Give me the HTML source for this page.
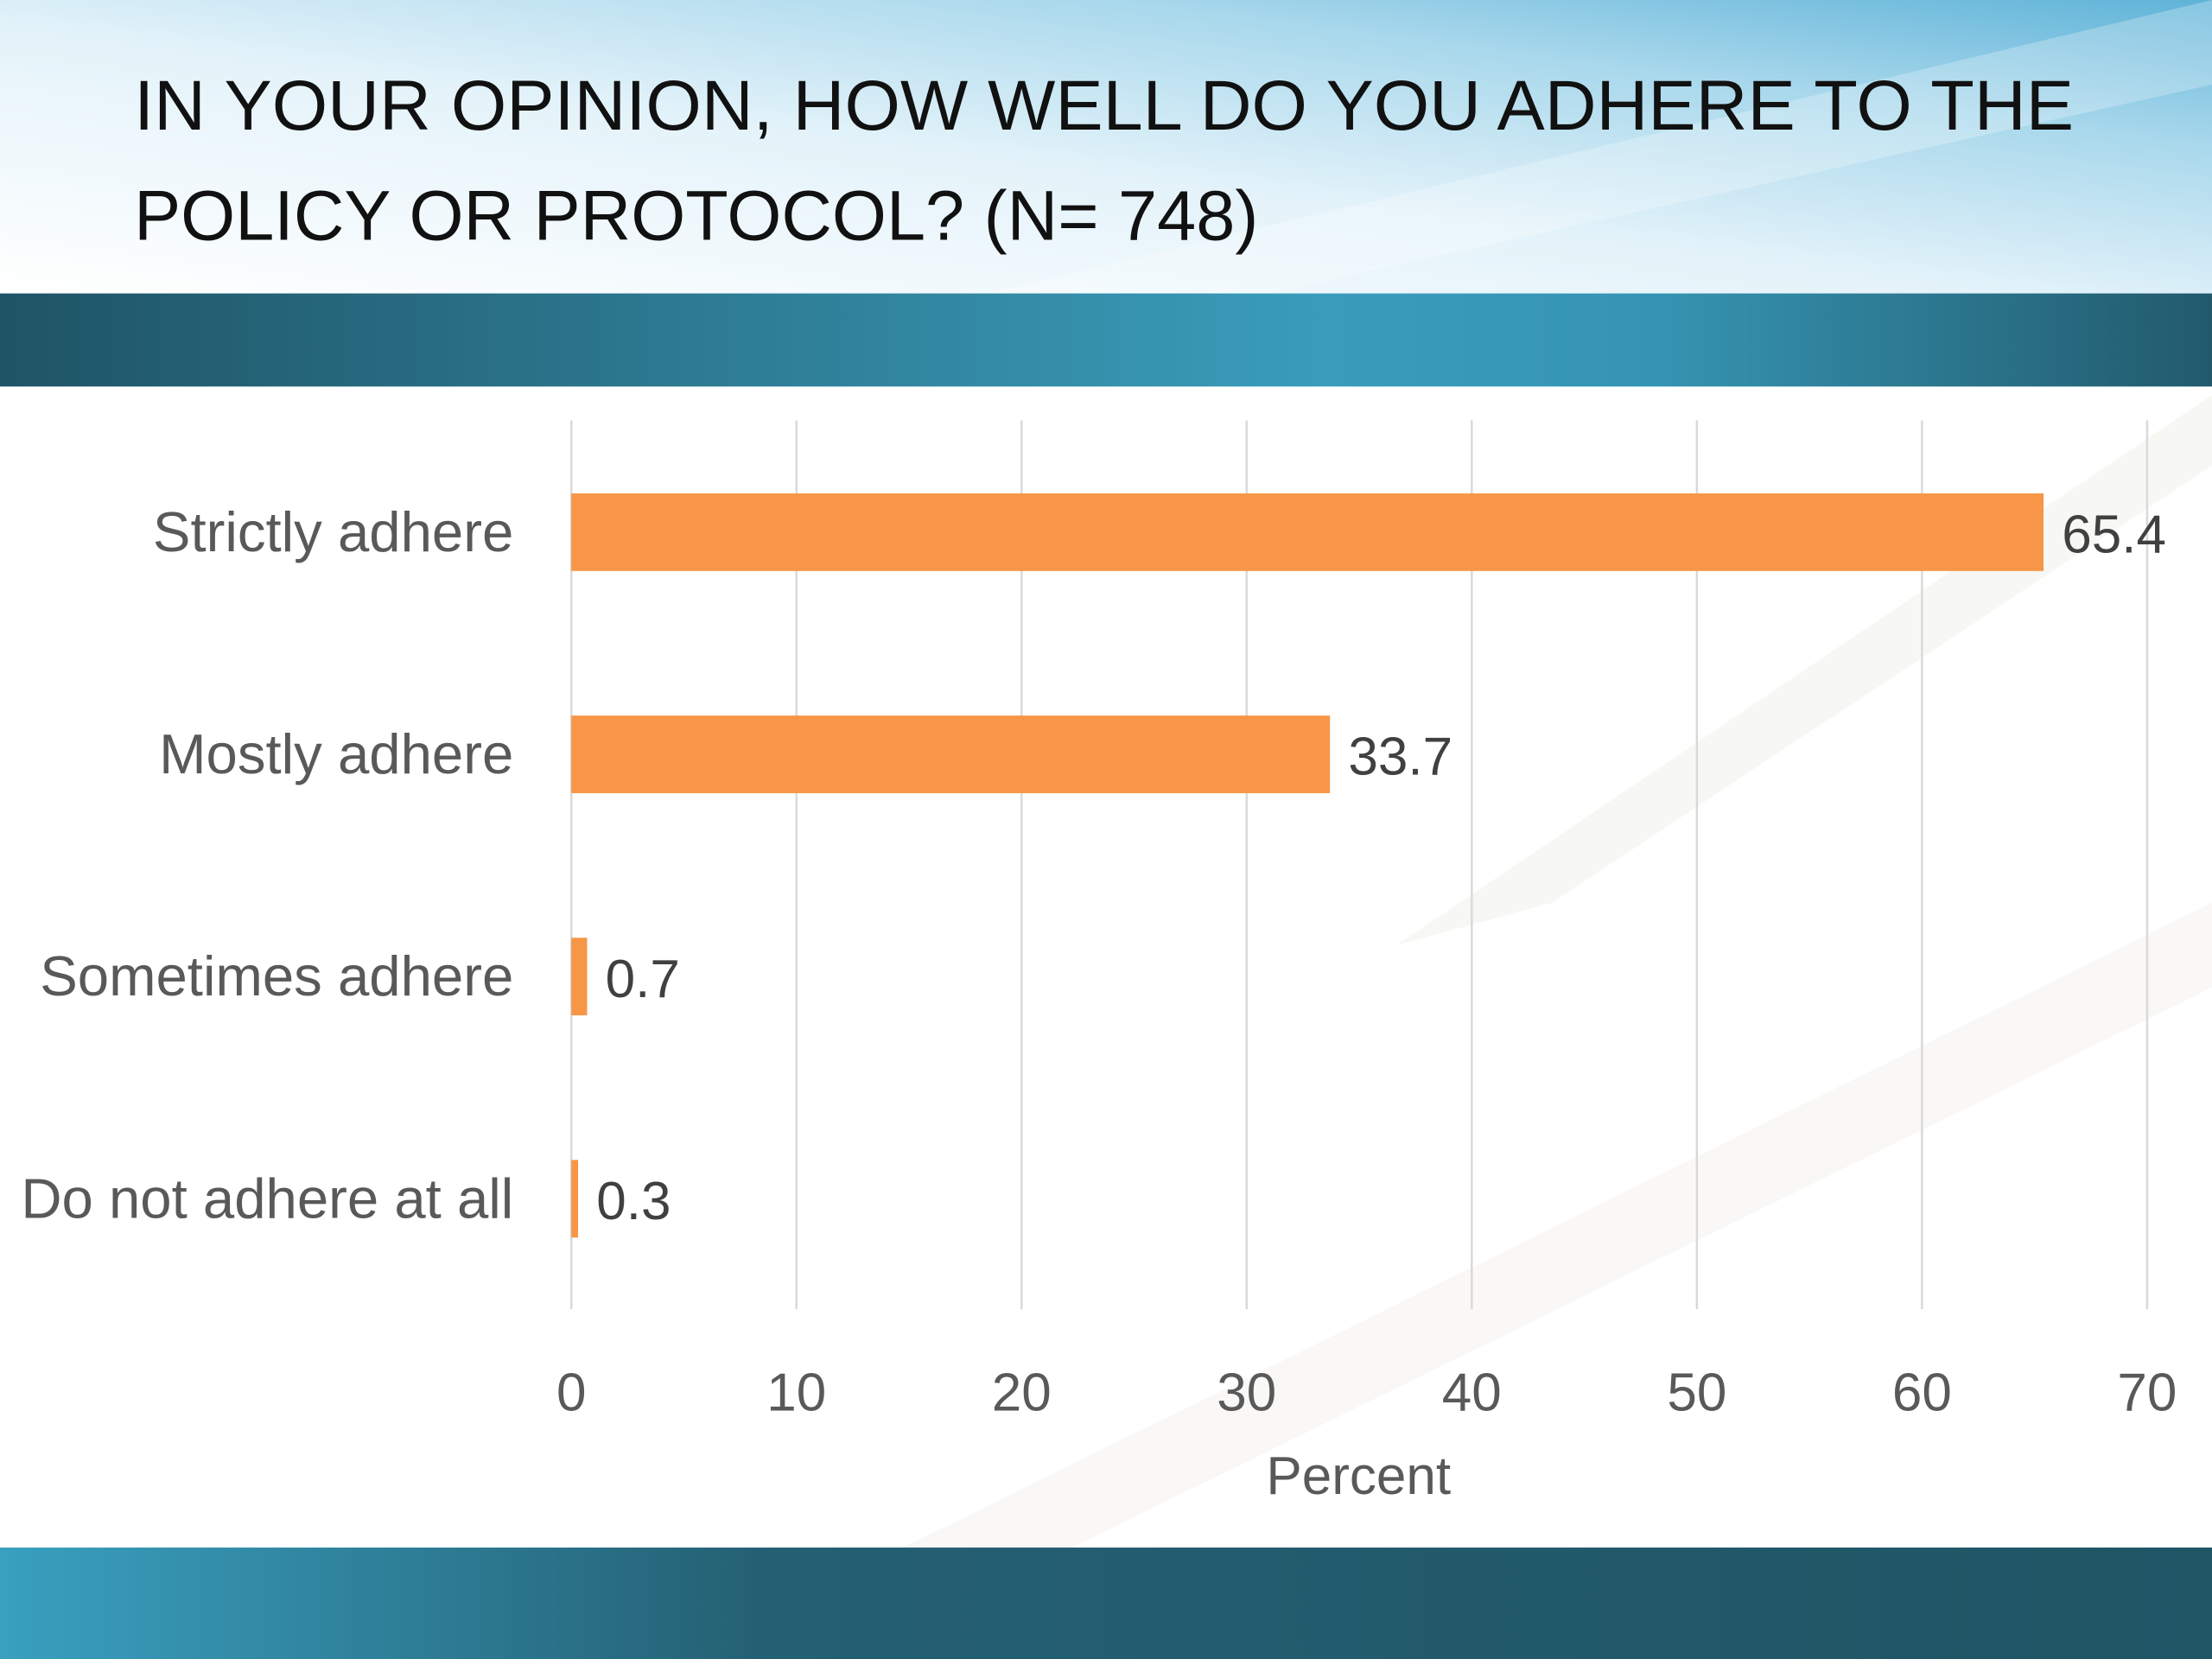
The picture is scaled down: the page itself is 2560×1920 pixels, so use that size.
<!DOCTYPE html>
<html><head><meta charset="utf-8"><style>
html,body{margin:0;padding:0;background:#fff;}
svg{display:block;font-family:"Liberation Sans",sans-serif;}
</style></head><body>
<svg width="2560" height="1920" viewBox="0 0 1568 1176" xmlns="http://www.w3.org/2000/svg">
<defs>
<linearGradient id="topbg" x1="0" y1="1" x2="1" y2="0">
<stop offset="0" stop-color="#ffffff"/><stop offset="0.45" stop-color="#e4f3fa"/><stop offset="0.75" stop-color="#a9d8ec"/><stop offset="1" stop-color="#5fb3d8"/>
</linearGradient>
<linearGradient id="band1" x1="0" y1="0" x2="1" y2="0">
<stop offset="0" stop-color="#1f5466"/><stop offset="0.6" stop-color="#3a9dbb"/><stop offset="0.75" stop-color="#3594b2"/><stop offset="1" stop-color="#225a6c"/>
</linearGradient>
<linearGradient id="band2" x1="0" y1="0" x2="1" y2="0">
<stop offset="0" stop-color="#39a0c0"/><stop offset="0.35" stop-color="#245f72"/><stop offset="1" stop-color="#1f5565"/>
</linearGradient>
</defs>
<rect x="0" y="0" width="1568" height="208" fill="url(#topbg)"/>
<polygon points="700,208 1568,0 1568,60 900,208" fill="#ffffff" opacity="0.25"/>
<rect x="0" y="208" width="1568" height="66" fill="url(#band1)"/>
<rect x="0" y="1097" width="1568" height="79" fill="url(#band2)"/>
<polygon points="640,1097 1568,640 1568,700 760,1097" fill="#f1f0ea" opacity="0.45"/>
<polygon points="990,670 1568,280 1568,330 1100,640" fill="#eeede6" opacity="0.45"/>
<text x="95" y="92" font-size="50" fill="#111" textLength="1375" lengthAdjust="spacingAndGlyphs">IN YOUR OPINION, HOW WELL DO YOU ADHERE TO THE</text>
<text x="95" y="170" font-size="50" fill="#111" textLength="797" lengthAdjust="spacingAndGlyphs">POLICY OR PROTOCOL? (N= 748)</text>
<g id="chart"></g>
</svg>
<script>
const categories = ["Strictly adhere", "Mostly adhere", "Sometimes adhere", "Do not adhere at all"];
const values = [65.4, 33.7, 0.7, 0.3];
const valueLabels = ["65.4", "33.7", "0.7", "0.3"];
const ticks = [0, 10, 20, 30, 40, 50, 60, 70];
const axisTitle = "Percent";

const NS = "http://www.w3.org/2000/svg";
const g = document.getElementById("chart");
const x0 = 405, x1 = 1522, xMax = 70;
const yTop = 298, yBot = 928;
const band = (yBot - yTop) / categories.length;
const barH = 55;
function xs(v){ return x0 + (x1 - x0) * v / xMax; }
function yc(i){ return yTop + band * (i + 0.5); }
function mk(tag, attrs){ const e = document.createElementNS(NS, tag); for (const k in attrs) e.setAttribute(k, attrs[k]); g.appendChild(e); return e; }

ticks.forEach((t, i) => {
  const l = mk("line", {x1: xs(t), x2: xs(t), y1: yTop, y2: yBot, stroke: "#d9d9d9", "stroke-width": 1.5});
  
  
  const tx = mk("text", {x: xs(t), y: 1000, "font-size": 38, fill: "#595959", "text-anchor": "middle"});
  tx.textContent = t;
  
  
});
categories.forEach((c, i) => {
  const y = yc(i);
  const r = mk("rect", {x: xs(0), y: y - barH/2 + 0.5, width: Math.max(xs(values[i]) - xs(0), 1), height: barH, fill: "#f79646"});
  
  
  const lbl = mk("text", {x: 364, y: y + 14, "font-size": 40, fill: "#595959", "text-anchor": "end"});
  lbl.textContent = c;
  
  
  const v = mk("text", {x: xs(values[i]) + 13, y: y + 15, "font-size": 38, fill: "#404040"});
  v.textContent = valueLabels[i];
  
  
});
const at = mk("text", {x: 963, y: 1059, "font-size": 38, fill: "#595959", "text-anchor": "middle"});
at.textContent = axisTitle;


</script>
</body></html>
